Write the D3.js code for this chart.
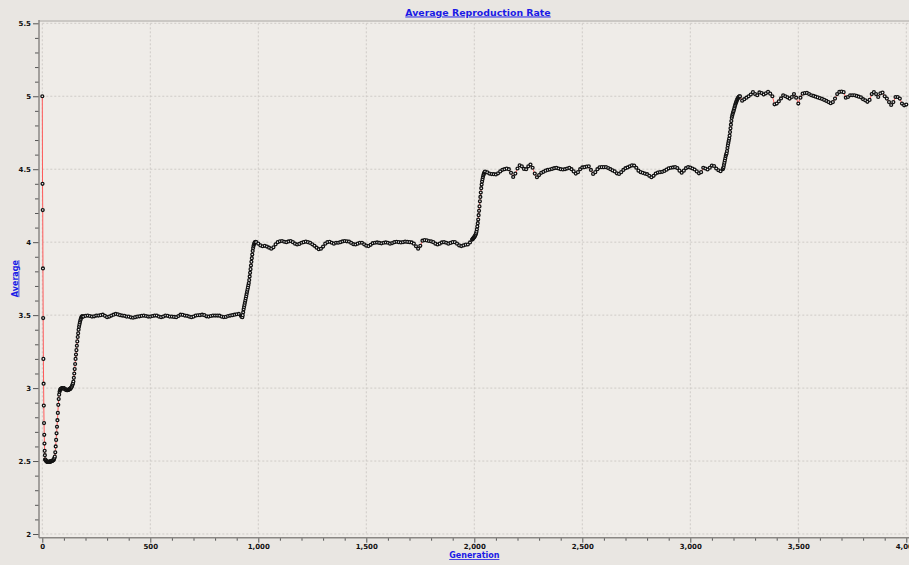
<!DOCTYPE html>
<html>
<head>
<meta charset="utf-8">
<script src="https://cdn.jsdelivr.net/npm/d3@7"></script>
<style>
  html, body { margin: 0; padding: 0; background: #e9e6e2; }
  svg { display: block; font-family: 'DejaVu Sans', sans-serif; }
</style>
</head>
<body>
<svg id="chart" width="909" height="565"></svg>
<script>
const title = 'Average Reproduction Rate';
const xLabel = 'Generation';
const yLabel = 'Average';
const xTicks = [0, 500, 1000, 1500, 2000, 2500, 3000, 3500, 4000];
const yTicks = [2, 2.5, 3, 3.5, 4, 4.5, 5, 5.5];

// averages, one array per phase
// early drop, every generation from 0
const drop = [5.0, 4.4, 4.22, 3.82, 3.48, 3.2, 3.03, 2.88, 2.76, 2.68, 2.62, 2.57, 2.54, 2.51];
// floor at 2.5 and the two first climbs, every 2nd generation from 14
const earlyClimb = [
  2.51, 2.505, 2.5, 2.497, 2.495, 2.495, 2.494, 2.494, 2.495, 2.495,
  2.496, 2.496, 2.497, 2.498, 2.5, 2.5, 2.502, 2.503, 2.505, 2.508,
  2.513, 2.52, 2.53, 2.56, 2.6, 2.645, 2.69, 2.735, 2.78, 2.83,
  2.885, 2.925, 2.955, 2.975, 2.986, 2.992, 2.995, 2.997, 2.998, 2.999,
  3.0, 3.0, 3.0, 2.999, 2.997, 2.995, 2.992, 2.99, 2.988, 2.987,
  2.986, 2.986, 2.987, 2.988, 2.99, 2.991, 2.992, 2.993, 2.996, 3.0,
  3.004, 3.009, 3.016, 3.024, 3.032, 3.045, 3.07, 3.1, 3.13, 3.165,
  3.2, 3.23, 3.26, 3.29, 3.32, 3.35, 3.375, 3.4, 3.42, 3.435,
  3.45, 3.463, 3.474, 3.482, 3.488, 3.491, 3.492, 3.492
];
// plateau 3.5, every 10th generation from 190
const plateau35 = [
  3.49, 3.495, 3.497, 3.494, 3.49, 3.492, 3.497, 3.497, 3.5, 3.503,
  3.495, 3.486, 3.49, 3.497, 3.503, 3.508, 3.505, 3.5, 3.497, 3.495,
  3.49, 3.49, 3.485, 3.482, 3.486, 3.49, 3.492, 3.495, 3.497, 3.494,
  3.49, 3.49, 3.494, 3.497, 3.497, 3.49, 3.486, 3.49, 3.497, 3.495,
  3.49, 3.49, 3.488, 3.486, 3.494, 3.503, 3.502, 3.497, 3.495, 3.49,
  3.486, 3.49, 3.497, 3.499, 3.5, 3.503, 3.5, 3.492, 3.49, 3.494,
  3.497, 3.497, 3.497, 3.496, 3.49, 3.487, 3.488, 3.494, 3.497, 3.5,
  3.503, 3.506, 3.508, 3.495
];
// climb to 4, every 2nd generation from 922
const climb40 = [
  3.492, 3.488, 3.486, 3.5, 3.52, 3.54, 3.555, 3.57, 3.585, 3.6,
  3.615, 3.63, 3.645, 3.66, 3.675, 3.69, 3.705, 3.72, 3.74, 3.765,
  3.79, 3.815, 3.84, 3.865, 3.89, 3.915, 3.94, 3.96, 3.975, 3.985,
  3.993, 3.998, 4.0, 4.003
];
// plateau 4, every 10th generation from 990
const plateau40 = [
  4.0, 3.99, 3.978, 3.972, 3.975, 3.97, 3.962, 3.955, 3.965, 3.985,
  4.0, 4.006, 4.008, 4.003, 4.0, 4.005, 4.008, 4.0, 3.99, 3.984,
  3.988, 3.996, 4.0, 4.004, 4.0, 3.995, 3.985, 3.975, 3.962, 3.952,
  3.955, 3.97, 3.99, 4.0, 4.003, 3.996, 3.99, 3.996, 3.996, 4.0,
  4.005, 4.008, 4.006, 4.004, 3.995, 3.986, 3.984, 3.99, 3.996, 3.996,
  3.985, 3.976, 3.973, 3.982, 3.993, 3.996, 3.998, 3.995, 3.992, 3.996,
  3.998, 3.996, 3.99, 3.994, 4.0, 4.003, 4.0, 3.998, 4.0, 4.004,
  4.002, 4.0, 3.998, 3.99, 3.972, 3.955, 3.975, 4.01, 4.014, 4.012,
  4.008, 4.006, 4.0, 3.99, 3.984, 3.99, 3.998, 4.0, 3.996, 3.99,
  3.995, 4.0, 4.0, 3.99, 3.978, 3.973, 3.978, 3.983, 3.984, 3.998,
  4.018
];
// climb to 4.5, every 2nd generation from 1992
const climb45 = [
  4.02, 4.025, 4.028, 4.032, 4.036, 4.04, 4.045, 4.052, 4.06, 4.072,
  4.088, 4.108, 4.13, 4.155, 4.185, 4.215, 4.245, 4.28, 4.31, 4.34,
  4.37, 4.395, 4.415, 4.432, 4.446, 4.458, 4.468, 4.475, 4.48, 4.484
];
// plateau 4.5, every 10th generation from 2060
const plateau45 = [
  4.478, 4.47, 4.467, 4.466, 4.464, 4.472, 4.485, 4.496, 4.5, 4.504,
  4.5, 4.475, 4.447, 4.47, 4.505, 4.527, 4.52, 4.502, 4.5, 4.52,
  4.532, 4.51, 4.47, 4.445, 4.46, 4.475, 4.482, 4.49, 4.495, 4.498,
  4.502, 4.507, 4.509, 4.505, 4.5, 4.498, 4.5, 4.505, 4.509, 4.5,
  4.485, 4.47, 4.48, 4.5, 4.512, 4.514, 4.518, 4.52, 4.495, 4.468,
  4.48, 4.5, 4.513, 4.514, 4.514, 4.514, 4.508, 4.5, 4.492, 4.485,
  4.472, 4.468, 4.48, 4.495, 4.507, 4.512, 4.52, 4.526, 4.525, 4.51,
  4.49, 4.48, 4.475, 4.47, 4.466, 4.455, 4.445, 4.455, 4.47, 4.477,
  4.48, 4.482, 4.488, 4.497, 4.506, 4.51, 4.512, 4.514, 4.508, 4.49,
  4.476, 4.49, 4.507, 4.514, 4.511, 4.505, 4.498, 4.485, 4.472, 4.48,
  4.51, 4.505, 4.498, 4.51, 4.525, 4.522, 4.505, 4.493, 4.486
];
// climb to 5, every 2nd generation from 3150
const climb50 = [
  4.5, 4.505, 4.515, 4.53, 4.545, 4.56, 4.575, 4.59, 4.6, 4.61,
  4.625, 4.645, 4.665, 4.68, 4.695, 4.71, 4.73, 4.755, 4.78, 4.805,
  4.83, 4.852, 4.866, 4.878, 4.888, 4.898, 4.908, 4.918, 4.93, 4.94,
  4.95, 4.958, 4.966, 4.974, 4.98, 4.986, 4.99, 4.994, 4.997, 4.999,
  5.0
];
// plateau 5, every 10th generation from 3240
const plateau50 = [
  4.97, 4.98, 4.99, 5.0, 5.012, 5.028, 5.015, 5.007, 5.026, 5.022,
  5.012, 5.02, 5.03, 5.018, 5.0, 4.945, 4.95, 4.965, 4.985, 5.007,
  5.0, 4.993, 4.984, 4.995, 5.015, 4.99, 4.95, 4.99, 5.018, 5.022,
  5.023, 5.015, 5.007, 5.002, 4.997, 4.992, 4.987, 4.982, 4.975, 4.968,
  4.96, 4.952, 4.96, 4.984, 5.015, 5.03, 5.032, 5.028, 4.99, 4.995,
  5.007, 5.007, 5.007, 5.002, 4.997, 4.993, 4.98, 4.972, 4.962, 4.975,
  5.015, 5.028, 5.015, 4.995, 5.02, 5.025, 5.0, 4.984, 4.96, 4.94,
  4.96, 4.995, 4.995, 4.984, 4.95, 4.938, 4.943
];

// [first generation, generation step, values]
const phases = [
  [0, 1, drop],
  [14, 2, earlyClimb],
  [190, 10, plateau35],
  [922, 2, climb40],
  [990, 10, plateau40],
  [1992, 2, climb45],
  [2060, 10, plateau45],
  [3150, 2, climb50],
  [3240, 10, plateau50],
];

const data = phases.flatMap(([start, step, values]) =>
  values.map((avg, i) => ({ gen: start + i * step, avg }))
);

const svg = d3.select('#chart');

const plot = { left: 42.3, right: 906.3, top: 23.3, bottom: 534 };
const axisX = 39; // y axis line sits a little left of the data area
const axisY = 537.7; // x axis line sits a little below it

const xScale = d3.scaleLinear().domain([0, 4000]).range([plot.left, plot.right]);
const yScale = d3.scaleLinear().domain([2, 5.5]).range([plot.bottom, plot.top]);

// plot background
svg
  .append('rect')
  .attr('x', axisX)
  .attr('y', 20)
  .attr('width', 909 - axisX)
  .attr('height', axisY - 20)
  .attr('fill', '#efece8');

svg
  .append('line')
  .attr('x1', axisX)
  .attr('x2', 909)
  .attr('y1', 21)
  .attr('y2', 21)
  .attr('stroke', '#cbc8c4')
  .attr('stroke-width', 2);

// grid
const grid = svg.append('g').attr('stroke', '#cfcbc7').attr('stroke-dasharray', '2,2');
grid
  .selectAll('line.gx')
  .data(xTicks)
  .join('line')
  .attr('x1', d => xScale(d))
  .attr('x2', d => xScale(d))
  .attr('y1', plot.top)
  .attr('y2', plot.bottom);
grid
  .selectAll('line.gy')
  .data(yTicks)
  .join('line')
  .attr('x1', plot.left)
  .attr('x2', 909)
  .attr('y1', d => yScale(d))
  .attr('y2', d => yScale(d));

// axes
const xMinor = d3.range(0, 4001, 100).filter(d => d % 500 !== 0);
const yMinor = d3.range(20, 56).map(d => d / 10).filter(d => Math.round(d * 10) % 5 !== 0);

const xAxisG = svg.append('g').attr('transform', `translate(0 ${axisY})`);
xAxisG.call(
  d3.axisBottom(xScale).tickValues(xMinor).tickSize(3).tickFormat('')
);
xAxisG
  .append('g')
  .call(
    d3
      .axisBottom(xScale)
      .tickValues(xTicks)
      .tickSize(5)
      .tickPadding(1.5)
      .tickFormat(d3.format(','))
  );

const yAxisG = svg.append('g').attr('transform', `translate(${axisX} 0)`);
yAxisG.call(
  d3.axisLeft(yScale).tickValues(yMinor).tickSize(4).tickFormat('')
);
yAxisG
  .append('g')
  .call(
    d3
      .axisLeft(yScale)
      .tickValues(yTicks)
      .tickSize(6)
      .tickPadding(2)
      .tickFormat(d => String(d))
  );

svg.selectAll('.domain').remove();
svg.selectAll('.tick line').attr('stroke', '#555');
svg
  .selectAll('.tick text')
  .attr('fill', '#111')
  .attr('font-size', 7)
  .attr('font-weight', 'bold')
  .attr('font-family', 'DejaVu Sans');

svg
  .append('line')
  .attr('x1', axisX)
  .attr('x2', axisX)
  .attr('y1', 20)
  .attr('y2', axisY)
  .attr('stroke', '#8a8784')
  .attr('stroke-width', 1.5);
svg
  .append('line')
  .attr('x1', axisX)
  .attr('x2', 909)
  .attr('y1', axisY)
  .attr('y2', axisY)
  .attr('stroke', '#8a8784')
  .attr('stroke-width', 1.5);

// series
const line = d3
  .line()
  .x(d => xScale(d.gen))
  .y(d => yScale(d.avg));

svg
  .append('path')
  .attr('d', line(data))
  .attr('fill', 'none')
  .attr('stroke', '#ff5a5a')
  .attr('stroke-width', 1);

svg
  .append('g')
  .selectAll('circle')
  .data(data)
  .join('circle')
  .attr('cx', d => xScale(d.gen))
  .attr('cy', d => yScale(d.avg))
  .attr('r', 1.45)
  .attr('fill', '#fff')
  .attr('stroke', '#111')
  .attr('stroke-width', 1.3);

// titles
const labelStyle = sel =>
  sel
    .attr('fill', '#1a1ae6')
    .attr('font-weight', 'bold')
    .attr('text-decoration', 'underline')
    .attr('text-anchor', 'middle');

svg
  .append('text')
  .attr('x', 478)
  .attr('y', 15.5)
  .attr('font-size', 9.4)
  .call(labelStyle)
  .text(title);

svg
  .append('text')
  .attr('x', (plot.left + plot.right) / 2)
  .attr('y', 558)
  .attr('font-size', 8)
  .call(labelStyle)
  .text(xLabel);

svg
  .append('text')
  .attr('transform', `translate(17.5 ${(plot.top + plot.bottom) / 2}) rotate(-90)`)
  .attr('font-size', 8)
  .call(labelStyle)
  .text(yLabel);
</script>
</body>
</html>
